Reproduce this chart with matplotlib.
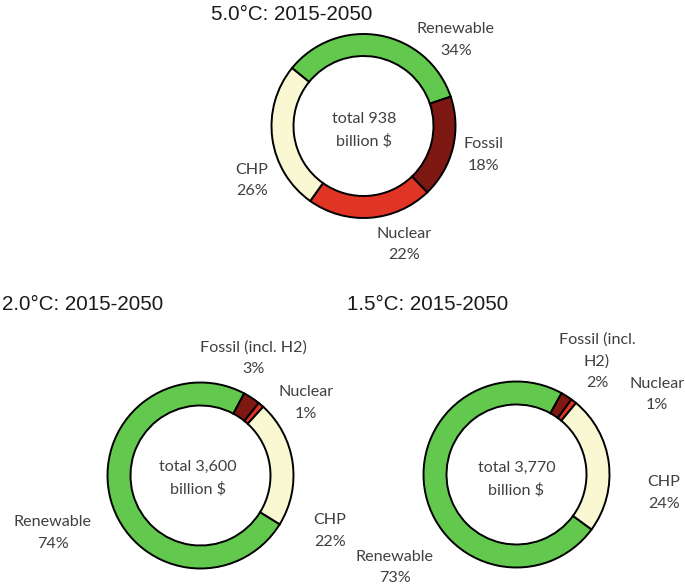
import matplotlib
matplotlib.use("Agg")
import matplotlib.pyplot as plt
from matplotlib.font_manager import FontProperties

# ---------------- data ----------------
titles = ["5.0°C: 2015-2050", "2.0°C: 2015-2050", "1.5°C: 2015-2050"]
totals = ["938", "3,600", "3,770"]
cats_50 = ["Renewable", "Fossil", "Nuclear", "CHP"]
vals_50 = [34, 18, 22, 26]
cats_20 = ["Renewable", "Fossil (incl. H2)", "Nuclear", "CHP"]
vals_20 = [74, 3, 1, 22]
cats_15 = ["Renewable", "Fossil (incl.\nH2)", "Nuclear", "CHP"]
vals_15 = [73, 2, 1, 24]

colors = ["#62C84E", "#7D1812", "#E03424", "#FAF8D2"]

W, H = 685, 587
fig = plt.figure(figsize=(W / 100, H / 100), dpi=100)
ax = fig.add_axes([0, 0, 1, 1])

LABEL_FONT = ["Lato", "DejaVu Sans"]
TITLE_FONT = ["Liberation Sans", "DejaVu Sans"]
LABEL_SIZE = 11.6
LABEL_COLOR = "#404040"

fp = FontProperties(family=LABEL_FONT, size=LABEL_SIZE)
fig.canvas.draw()
rend = fig.canvas.get_renderer()
_, lh, ld = rend.get_text_width_height_descent("lp", fp, ismath=False)
LS = 0.89 * 20.5 / (lh - ld)


def Y(y):
    return H - y


charts = [
    dict(title=titles[0], total=totals[0], cats=cats_50, vals=vals_50,
         c=(363.5, 126), r=92, w=22, start=141,
         tpos=(211, 14),
         lpos=[(456, 40), (484, 155), (404, 244.5), (252, 180.5)],
         cpos=(364, 130)),
    dict(title=titles[1], total=totals[1], cats=cats_20, vals=vals_20,
         c=(200.5, 475.5), r=93, w=23, start=-31.6,
         tpos=(2, 305),
         lpos=[(53, 533), (253.5, 358), (306, 403), (330, 531)],
         cpos=(198, 478)),
    dict(title=titles[2], total=totals[2], cats=cats_15, vals=vals_15,
         c=(516.5, 474.5), r=93, w=23, start=-36.2,
         tpos=(347, 305),
         lpos=[(395, 567.5), (597, 361), (657, 394.5), (664, 493)],
         cpos=(516.5, 479)),
]

for ch in charts:
    cx, cy = ch["c"]
    ax.pie(ch["vals"], colors=colors, startangle=ch["start"], counterclock=False,
           center=(cx, Y(cy)), radius=ch["r"],
           wedgeprops=dict(width=ch["w"], edgecolor="black", linewidth=1.4))
    tx, ty = ch["tpos"]
    ax.text(tx, Y(ty), ch["title"], ha="left", va="center", fontsize=14.8,
            family=TITLE_FONT, color="#1a1a1a")
    for cat, v, (lx, ly) in zip(ch["cats"], ch["vals"], ch["lpos"]):
        ax.text(lx, Y(ly), f"{cat}\n{v}%", ha="center", va="center",
                multialignment="center", fontsize=LABEL_SIZE, family=LABEL_FONT,
                color=LABEL_COLOR, linespacing=LS)
    px, py = ch["cpos"]
    ax.text(px, Y(py), f"total {ch['total']}\nbillion $", ha="center", va="center",
            multialignment="center", fontsize=LABEL_SIZE, family=LABEL_FONT,
            color=LABEL_COLOR, linespacing=LS)

ax.set_xlim(0, W)
ax.set_ylim(0, H)
ax.set_aspect("equal")
ax.axis("off")

fig.savefig("out.png", dpi=100)
